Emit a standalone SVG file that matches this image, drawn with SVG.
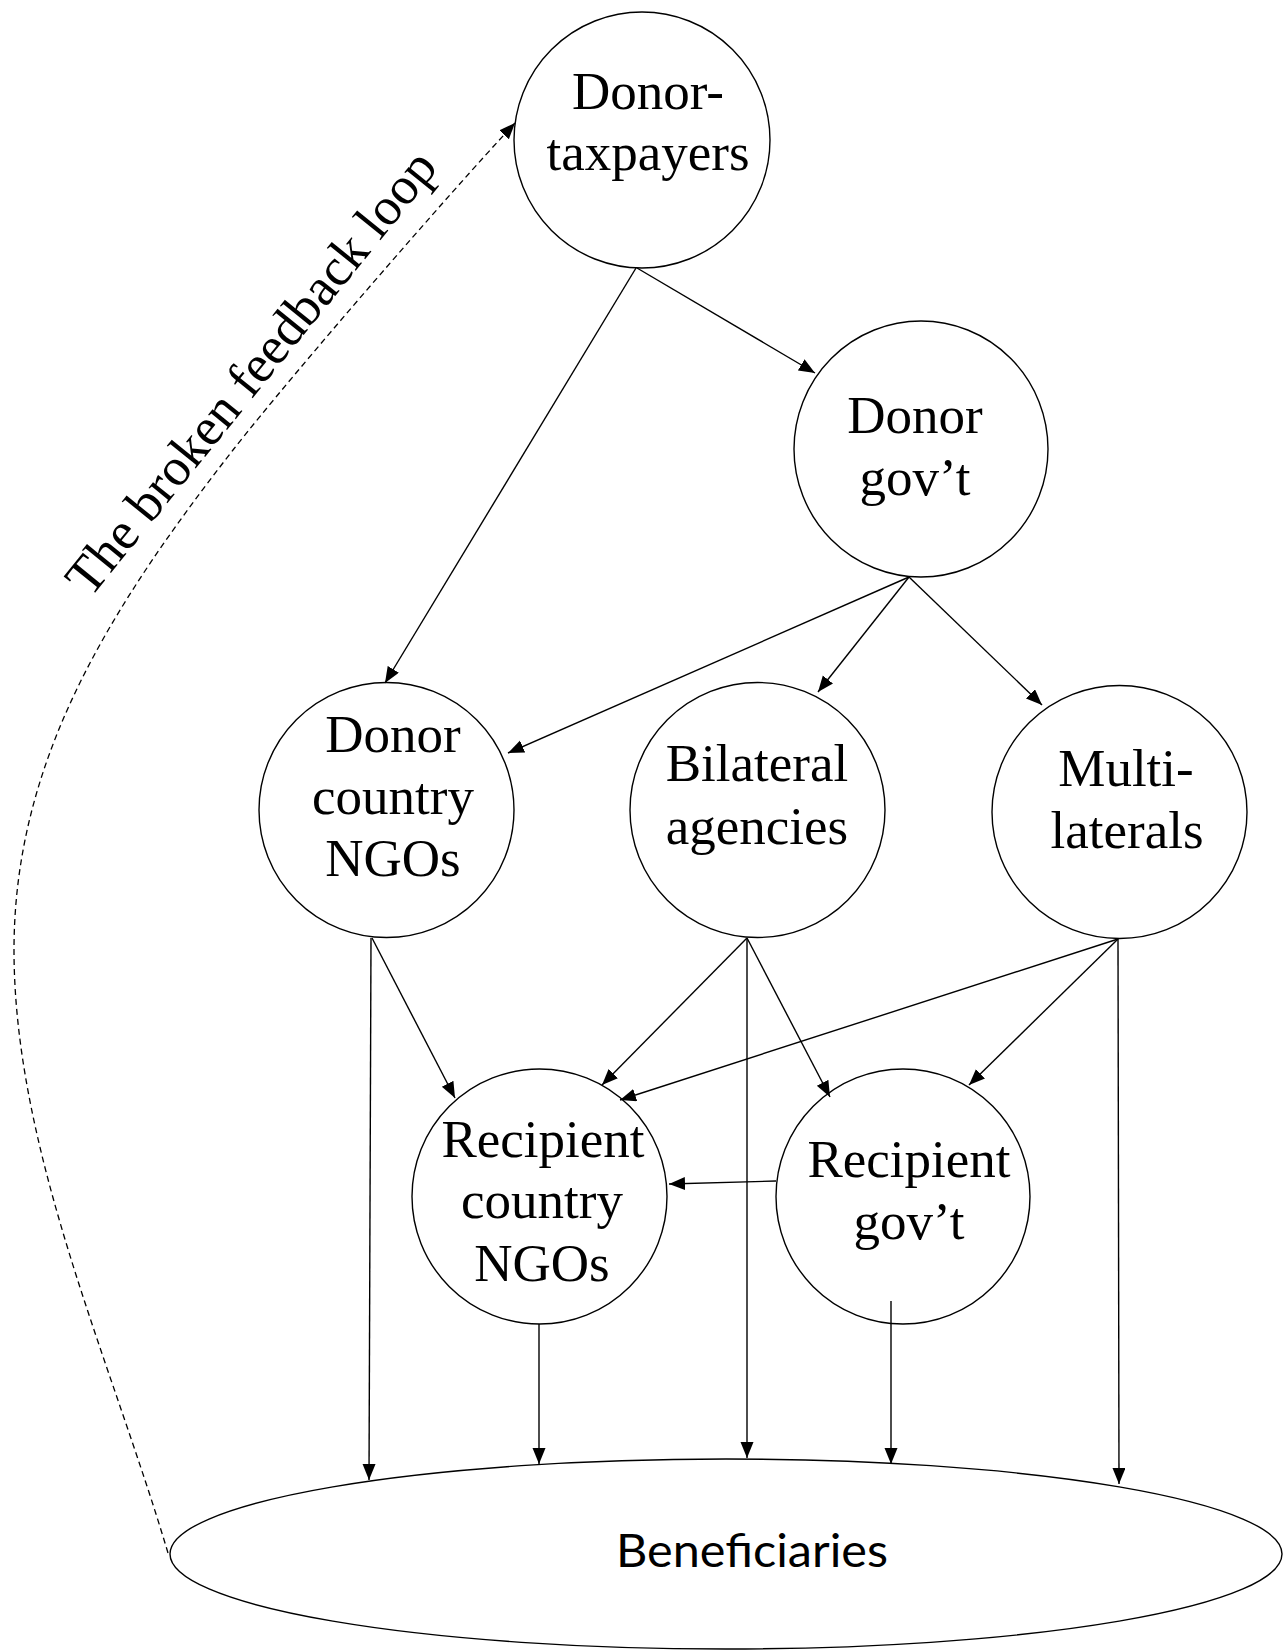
<svg xmlns="http://www.w3.org/2000/svg" width="1287" height="1652" viewBox="0 0 1287 1652">
<style>
.node{fill:none;stroke:#000;stroke-width:1.4}
.lbl{font-family:"Liberation Serif","Times New Roman",serif;font-size:53px;fill:#000;text-anchor:middle}
.edge{stroke:#000;stroke-width:1.4;fill:none;marker-end:url(#arr)}
.dash{stroke:#000;stroke-width:1.3;fill:none;stroke-dasharray:6,4;marker-end:url(#arr)}
</style>
<defs>
<marker id="arr" markerUnits="userSpaceOnUse" markerWidth="17" markerHeight="14" refX="16" refY="6.5" orient="auto">
<path d="M0,0 L16,6.5 L0,13 z" fill="#000"/>
</marker>
</defs>
<rect width="1287" height="1652" fill="#fff"/>
<g id="connectors">
<line class="edge" x1="636" y1="268" x2="385" y2="683"/>
<line class="edge" x1="637" y1="268" x2="815" y2="373"/>
<line class="edge" x1="909" y1="577" x2="508" y2="753"/>
<line class="edge" x1="909" y1="577" x2="818" y2="692"/>
<line class="edge" x1="909" y1="577" x2="1042" y2="705"/>
<line class="edge" x1="371" y1="938" x2="369" y2="1480"/>
<line class="edge" x1="372" y1="938" x2="455" y2="1098"/>
<line class="edge" x1="747" y1="938" x2="602" y2="1085"/>
<line class="edge" x1="747" y1="938" x2="747" y2="1458"/>
<line class="edge" x1="747" y1="938" x2="830" y2="1097"/>
<line class="edge" x1="1118" y1="939" x2="620" y2="1100"/>
<line class="edge" x1="1118" y1="939" x2="969" y2="1085"/>
<line class="edge" x1="1118" y1="939" x2="1119" y2="1484"/>
<line class="edge" x1="776" y1="1181" x2="669" y2="1184"/>
<line class="edge" x1="539" y1="1324" x2="539" y2="1464"/>
<line class="edge" x1="891" y1="1301" x2="891" y2="1464"/>
<path class="dash" d="M168,1553 C111,1361 14,1150 14,950 C14,760 110,608 233,450 C295,371 447,196 515,123"/>
</g>
<text class="lbl" style="text-anchor:start" transform="translate(90,599) rotate(-51)">The broken feedback loop</text>
<g id="donor-taxpayers">
<ellipse class="node" cx="642" cy="140" rx="128" ry="128"/>
<text class="lbl" x="648" y="109">Donor-</text>
<text class="lbl" x="648" y="170">taxpayers</text>
</g>
<g id="donor-govt">
<ellipse class="node" cx="921" cy="449" rx="127" ry="128"/>
<text class="lbl" x="915" y="433">Donor</text>
<text class="lbl" x="915" y="495">gov’t</text>
</g>
<g id="donor-country-ngos">
<ellipse class="node" cx="386.5" cy="810" rx="127.5" ry="127.5"/>
<text class="lbl" x="393" y="752">Donor</text>
<text class="lbl" x="393" y="814">country</text>
<text class="lbl" x="393" y="876">NGOs</text>
</g>
<g id="bilateral-agencies">
<ellipse class="node" cx="757.5" cy="810" rx="127.5" ry="127.5"/>
<text class="lbl" x="757" y="781">Bilateral</text>
<text class="lbl" x="757" y="844">agencies</text>
</g>
<g id="multilaterals">
<ellipse class="node" cx="1119.5" cy="812" rx="127.5" ry="126.5"/>
<text class="lbl" x="1126" y="786">Multi-</text>
<text class="lbl" x="1127" y="848">laterals</text>
</g>
<g id="recipient-country-ngos">
<ellipse class="node" cx="539.5" cy="1196.5" rx="127.5" ry="127.5"/>
<text class="lbl" x="543" y="1157">Recipient</text>
<text class="lbl" x="542" y="1218">country</text>
<text class="lbl" x="542" y="1281">NGOs</text>
</g>
<g id="recipient-govt">
<ellipse class="node" cx="903" cy="1196.5" rx="127" ry="127.5"/>
<text class="lbl" x="909" y="1177">Recipient</text>
<text class="lbl" x="909" y="1239">gov’t</text>
</g>
<g id="beneficiaries">
<ellipse class="node" cx="726" cy="1554" rx="556" ry="95"/>
<text x="752" y="1567" text-anchor="middle" font-family="Lato, 'Liberation Sans', sans-serif" font-size="46" textLength="272" lengthAdjust="spacingAndGlyphs">Beneficiaries</text>
</g>
</svg>
